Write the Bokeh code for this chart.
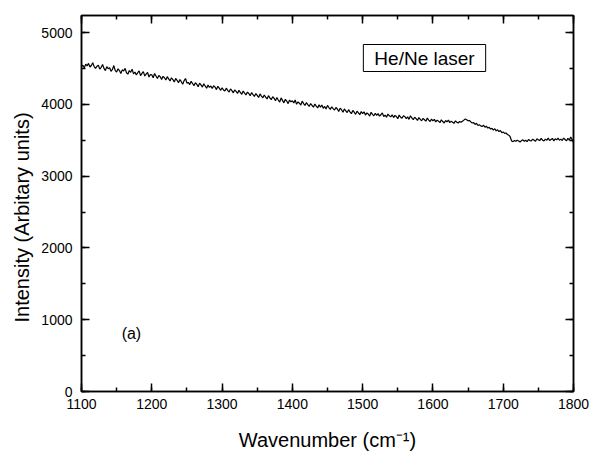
from bokeh.plotting import figure
from bokeh.models import Range1d, LinearAxis, Label, SingleIntervalTicker, Title
from bokeh.embed import file_html
from bokeh.resources import INLINE

# Wavenumber sampled every 2 cm-1 from 1100 to 1800
wn_start = 1100
wn_step = 2
intensity = [
    4530, 4545, 4510, 4560, 4535, 4570, 4520, 4540, 4580, 4525,
    4500, 4530, 4545, 4490, 4515, 4555, 4500, 4470, 4525, 4495,
    4510, 4460, 4485, 4540, 4470, 4450, 4495, 4470, 4430, 4480,
    4465, 4500, 4440, 4420, 4470, 4445, 4490, 4425, 4450, 4410,
    4440, 4465, 4400, 4430, 4455, 4395, 4420, 4445, 4380, 4415,
    4410, 4370, 4430, 4395, 4360, 4400, 4385, 4345, 4390, 4370,
    4340, 4385, 4355, 4325, 4370, 4345, 4310, 4360, 4335, 4300,
    4345, 4315, 4280, 4330, 4360, 4295, 4305, 4275, 4320, 4290,
    4260, 4300, 4280, 4245, 4295, 4270, 4240, 4285, 4255, 4225,
    4270, 4235, 4255, 4220, 4260, 4240, 4205, 4250, 4225, 4195,
    4230, 4200, 4185, 4225, 4195, 4170, 4215, 4190, 4160, 4200,
    4180, 4150, 4195, 4165, 4140, 4185, 4155, 4130, 4170, 4150,
    4120, 4165, 4135, 4110, 4150, 4125, 4095, 4145, 4115, 4090,
    4130, 4100, 4075, 4120, 4090, 4065, 4105, 4085, 4050, 4095,
    4060, 4030, 4090, 4055, 4020, 4070, 4045, 4010, 4060, 4035,
    4050, 4020, 4060, 4000, 4035, 4015, 3990, 4045, 4010, 3985,
    4025, 3995, 3970, 4010, 3985, 3960, 4005, 3975, 3950, 3995,
    3960, 3990, 3945, 3970, 3935, 3985, 3955, 3930, 3965, 3940,
    3920, 3955, 3935, 3900, 3945, 3925, 3890, 3935, 3910, 3885,
    3925, 3895, 3870, 3915, 3890, 3860, 3905, 3880, 3855, 3900,
    3870, 3895, 3850, 3880, 3865, 3835, 3890, 3860, 3840, 3875,
    3845, 3870, 3835, 3855, 3880, 3830, 3850, 3820, 3865, 3840,
    3825, 3855, 3815, 3845, 3830, 3800, 3850, 3820, 3805, 3840,
    3830, 3800, 3825, 3790, 3840, 3810, 3785, 3820, 3800, 3775,
    3815, 3790, 3770, 3805, 3785, 3765, 3810, 3780, 3760, 3795,
    3770, 3790, 3755, 3780, 3765, 3745, 3785, 3760, 3740, 3775,
    3755, 3780, 3745, 3765, 3750, 3735, 3770, 3750, 3740, 3760,
    3750, 3765, 3780, 3795, 3785, 3770, 3775, 3755, 3740, 3745,
    3720, 3735, 3705, 3715, 3700, 3690, 3710, 3680, 3695, 3670,
    3680, 3655, 3665, 3640, 3660, 3630, 3645, 3620, 3635, 3605,
    3615, 3595, 3600, 3580, 3570, 3545, 3490, 3480, 3495, 3485,
    3500, 3490, 3475, 3495, 3505, 3485, 3500, 3480, 3510, 3495,
    3490, 3515, 3500, 3485, 3520, 3505, 3495, 3525, 3500, 3490,
    3515, 3500, 3530, 3495, 3510, 3525, 3490, 3520, 3505, 3530,
    3500, 3515, 3495, 3530, 3510, 3490, 3525, 3500, 3545, 3510,
    3470,
]
wavenumber = [wn_start + wn_step * i for i in range(len(intensity))]

x_range = (1100, 1800)
y_range = (0, 5237)
x_ticks = list(range(1100, 1801, 100))
y_ticks = list(range(0, 5001, 1000))
x_label = "Wavenumber (cm\u207b\u00b9)"
y_label = "Intensity (Arbitary units)"
box_text = "He/Ne laser"
panel_text = "(a)"

FONT = "Liberation Sans"

p = figure(width=589, height=453, output_backend="svg", toolbar_location=None,
           x_range=Range1d(*x_range), y_range=Range1d(*y_range),
           min_border_left=81, min_border_right=16, min_border_top=15,
           min_border_bottom=62, x_axis_location=None, y_axis_location=None)
p.grid.visible = False
p.outline_line_color = "black"
p.outline_line_width = 1.5
p.background_fill_color = "white"
p.border_fill_color = "white"

p.line(wavenumber, intensity, line_color="black", line_width=1.2)


def make_axis(kind, show_labels):
    ticker = SingleIntervalTicker(interval=100 if kind == "x" else 1000, num_minor_ticks=2)
    ax = LinearAxis(ticker=ticker)
    ax.axis_line_color = "black"
    ax.axis_line_width = 1.5
    ax.major_tick_in = 8
    ax.major_tick_out = 0
    ax.minor_tick_in = 4
    ax.minor_tick_out = 0
    ax.major_tick_line_width = 1.5
    ax.minor_tick_line_width = 1.5
    ax.major_tick_line_color = "black"
    ax.minor_tick_line_color = "black"
    ax.major_label_text_font = FONT
    ax.major_label_text_color = "black"
    ax.major_label_text_font_size = "14px"
    if not show_labels:
        ticks = x_ticks if kind == "x" else y_ticks
        ax.major_label_overrides = {t: "" for t in ticks}
        ax.major_label_standoff = 0
    return ax


xb = make_axis("x", True)
xb.major_label_standoff = 7
xb.axis_label = x_label
xb.axis_label_text_font = FONT
xb.axis_label_text_font_size = "20px"
xb.axis_label_text_font_style = "normal"
xb.axis_label_text_color = "black"
xb.axis_label_standoff = 17
p.add_layout(xb, "below")

yl = make_axis("y", True)
yl.major_label_standoff = 9
p.add_layout(yl, "left")

xt = make_axis("x", False)
p.add_layout(xt, "above")
yr = make_axis("y", False)
p.add_layout(yr, "right")

p.add_layout(Title(text=y_label, align="left", offset=69, standoff=12,
                   text_font=FONT, text_font_size="20px", text_font_style="normal",
                   text_color="black"), "left")

p.add_layout(Label(x=1501, y=4833, text=box_text, anchor="top_left",
                   text_font=FONT, text_font_size="19px", text_color="black",
                   border_line_color="black", border_line_width=1,
                   background_fill_color="white",
                   padding=dict(left=11, right=11, top=3, bottom=3)))

p.add_layout(Label(x=1171, y=808, text=panel_text, text_align="center",
                   text_baseline="middle", text_font=FONT, text_font_size="16px",
                   text_color="black"))

open("out.html", "w").write(file_html(p, INLINE))
